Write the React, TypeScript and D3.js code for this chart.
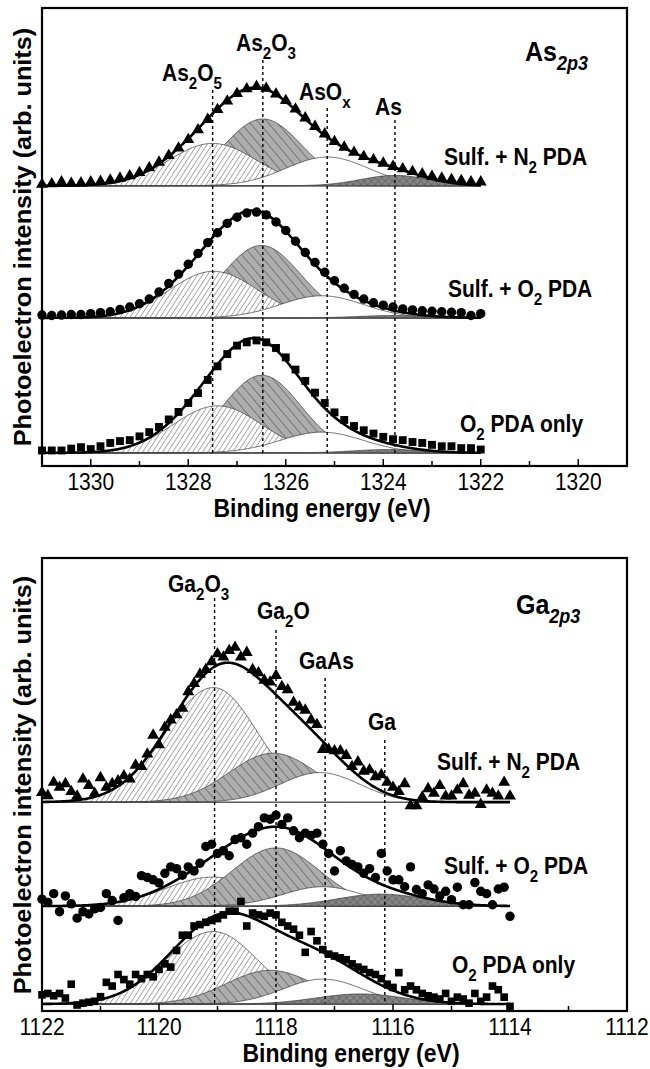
import React from "react";
import * as d3 from "d3";

// ---------- measured spectra (intensity above each curve's own baseline, arb. units) ----------
// As 2p3: one point every 0.2 eV from 1331.0 eV down to 1322.0 eV
const AS_START = 1331.0;
const AS_STEP = 0.2;
const asN2 = [0.3, 0.4, 0.8, 0.5, 0.6, 0.8, 0.9, 1.2, 1.6, 2.1, 2.8, 3.8, 5.0, 6.4, 8.0, 9.8, 11.9, 14.1, 16.2, 18.0, 19.6, 20.6, 21.1, 20.7, 19.5, 18.1, 16.3, 14.4, 12.6, 11.0, 9.4, 8.2, 7.1, 6.2, 5.5, 4.8, 4.1, 3.6, 3.0, 2.5, 2.0, 1.6, 1.3, 1.1, 0.8, 0.8];
const asO2 = [0.6, 0.5, 0.6, 0.7, 0.7, 0.9, 1.1, 1.3, 1.8, 2.3, 3.0, 4.0, 5.5, 7.3, 9.3, 11.4, 13.7, 16.0, 18.1, 20.1, 21.4, 22.3, 22.5, 21.9, 20.4, 18.6, 16.3, 13.9, 11.8, 9.7, 7.9, 6.3, 5.0, 4.0, 3.2, 2.7, 2.3, 1.9, 1.7, 1.5, 1.4, 1.3, 1.2, 1.1, 0.5, 0.9];
const asO2Only = [0.5, 0.5, 0.5, 0.9, 1.2, 0.8, 1.4, 2.1, 2.5, 2.7, 3.5, 4.4, 5.5, 7.1, 8.7, 10.6, 12.7, 15.5, 18.4, 21.0, 22.8, 23.5, 23.9, 23.5, 22.3, 20.3, 17.7, 15.3, 12.8, 10.6, 8.6, 7.0, 5.7, 4.8, 4.1, 3.4, 2.9, 2.7, 2.3, 2.1, 1.7, 1.4, 1.4, 1.0, 1.0, 0.7];

// Ga 2p3: one point every 0.1 eV from 1122.0 eV down to 1114.0 eV
const GA_START = 1122.0;
const GA_STEP = 0.1;
const gaN2 = [2.1, 1.4, 4.3, 3.2, 4.0, 2.3, 1.3, 5.0, 3.6, 1.9, 5.3, 3.2, 4.0, 4.6, 5.7, 5.0, 8.0, 7.7, 10.4, 14.5, 12.4, 16.2, 17.8, 18.9, 20.3, 23.9, 25.7, 27.7, 28.7, 30.4, 32.1, 31.4, 32.8, 33.5, 31.4, 32.4, 28.7, 28.0, 26.4, 26.0, 27.4, 25.0, 24.3, 21.6, 20.6, 19.9, 17.8, 16.8, 11.4, 11.4, 11.1, 11.1, 10.1, 7.7, 8.7, 6.7, 7.0, 5.5, 5.9, 4.3, 3.2, 2.3, 4.0, -0.8, -0.8, 1.1, 2.9, 1.9, 3.6, 1.3, 1.3, 2.6, 4.0, 1.5, 1.9, -0.5, 2.6, 1.9, 1.3, 4.3, 1.3];
const gaO2 = [1.5, 0.8, 2.7, -1.2, 2.2, 0.5, -2.6, -1.2, -1.7, -0.6, -0.3, 2.7, 1.2, -3.1, 1.8, 2.7, 2.1, 6.6, 6.2, 5.7, 5.0, 7.1, 8.5, 8.1, 6.7, 8.5, 7.6, 9.3, 12.9, 13.4, 11.4, 12.0, 10.9, 14.4, 14.8, 13.4, 15.8, 17.2, 19.1, 18.8, 19.7, 17.7, 19.1, 16.3, 14.8, 15.8, 15.3, 15.8, 13.4, 11.4, 7.6, 12.0, 9.8, 9.0, 8.5, 7.1, 8.1, 6.2, 11.4, 7.6, 5.7, 5.7, 4.2, 8.5, 3.6, 2.7, 4.6, 3.7, 2.2, 3.2, 1.4, 4.1, 0.3, 0.3, 5.1, 3.2, 2.7, 0.3, 3.7, 4.1, -2.2];
const gaO2Only = [2.0, 2.3, 1.8, 2.3, 1.3, 4.3, -0.2, 0.2, 0.4, 0.6, 1.6, 4.7, 3.9, 6.4, 5.3, 4.3, 6.4, 5.5, 6.4, 5.9, 7.5, 8.7, 8.0, 11.6, 14.9, 14.9, 16.9, 17.2, 17.7, 18.1, 18.5, 19.3, 20.1, 20.1, 22.2, 16.9, 19.7, 19.3, 19.0, 19.7, 19.3, 17.7, 16.9, 16.2, 14.9, 11.2, 15.7, 13.7, 11.8, 10.8, 10.4, 10.0, 9.6, 8.7, 8.0, 7.5, 6.8, 6.4, 5.5, 4.3, 3.6, 6.8, 3.1, 3.9, 3.1, 2.3, 1.8, 1.5, 1.1, 2.3, 0.6, 1.5, 1.1, 0.2, 2.3, 0.6, 1.5, 3.9, 3.1, 1.5, -0.5];

// vertical offsets of the stacked spectra (arb. units)
const asOffsets = [59.6, 31.5, 2.8];
const gaOffsets = [45.2, 22.7, 1.5];

// ---------- fitted components: centre (eV), height, Gaussian width on the high / low BE side ----------
const asSigmaHi = [0.9, 0.8, 0.85, 0.7];
const asSigmaLo = [0.9, 0.8, 0.85, 0.7];
const asN2Centers = [1327.5, 1326.47, 1325.15, 1323.76];
const asN2Heights = [9.0, 14.2, 6.1, 2.2];
const asO2Centers = [1327.48, 1326.5, 1325.26, 1323.8];
const asO2Heights = [9.9, 15.4, 4.7, 0.5];
const asO2OnlyCenters = [1327.4, 1326.49, 1325.26, 1323.9];
const asO2OnlyHeights = [10.0, 16.5, 4.4, 0.7];

const gaSigmaHi = [0.82, 0.75, 0.68, 0.75];
const gaSigmaLo = [0.76, 0.75, 0.68, 0.75];
const gaN2Centers = [1119.07, 1118.05, 1117.25, 1116.2];
const gaN2Heights = [24.8, 10.6, 6.4, 0];
const gaO2Centers = [1119.07, 1118.0, 1117.2, 1116.2];
const gaO2Heights = [6.3, 12.6, 4.2, 2.6];
const gaO2OnlyCenters = [1119.07, 1118.1, 1117.2, 1116.56];
const gaO2OnlyHeights = [15.7, 7.3, 5.4, 2.2];

// reference energies of the chemical states (dotted guides)
const asStateEnergies = [1327.5, 1326.47, 1325.15, 1323.76];
const gaStateEnergies = [1119.05, 1118.0, 1117.16, 1116.14];

// ---------- axes ----------
const asTicks = [1330, 1328, 1326, 1324, 1322, 1320];
const asMinorTicks = [1331, 1329, 1327, 1325, 1323, 1321, 1319];
const gaTicks = [1122, 1120, 1118, 1116, 1114, 1112];
const gaMinorTicks = [1121, 1119, 1117, 1115, 1113];

// ---------- text ----------
type Seg = { t: string; sub?: boolean; it?: boolean };
const sampleLabels: Seg[][] = [
  [{ t: "Sulf. + N" }, { t: "2", sub: true }, { t: " PDA" }],
  [{ t: "Sulf. + O" }, { t: "2", sub: true }, { t: " PDA" }],
  [{ t: "O" }, { t: "2", sub: true }, { t: " PDA only" }],
];
const asStateLabels: Seg[][] = [
  [{ t: "As" }, { t: "2", sub: true }, { t: "O" }, { t: "5", sub: true }],
  [{ t: "As" }, { t: "2", sub: true }, { t: "O" }, { t: "3", sub: true }],
  [{ t: "AsO" }, { t: "x", sub: true }],
  [{ t: "As" }],
];
const gaStateLabels: Seg[][] = [
  [{ t: "Ga" }, { t: "2", sub: true }, { t: "O" }, { t: "3", sub: true }],
  [{ t: "Ga" }, { t: "2", sub: true }, { t: "O" }],
  [{ t: "GaAs" }],
  [{ t: "Ga" }],
];
const asCoreLabel: Seg[] = [{ t: "As" }, { t: "2p3", sub: true, it: true }];
const gaCoreLabel: Seg[] = [{ t: "Ga" }, { t: "2p3", sub: true, it: true }];
const xAxisTitle = "Binding energy (eV)";
const yAxisTitle = "Photoelectron intensity (arb. units)";

const FONT = "'Liberation Sans', Arial, Helvetica, sans-serif";
const TALL = 1.1; // lettering is drawn slightly taller than wide

// ---------- layout ----------
const AS_LAYOUT = {
  frame: { x0: 42, x1: 627, y0: 8, y1: 466 },
  yMax: 97.4,
  domain: [1331, 1319] as [number, number],
  stateLabelPos: [[162, 81], [236, 51], [299, 100], [375, 115]],
  guideTop: [90, 60, 108, 120],
  guideBottom: 453,
  sampleLabelPos: [[444, 165], [448, 297], [460, 432]],
  corePos: [525, 61],
  xLabelX: 322,
  yLabelY: 237,
  order: [1, 0, 2, 3],
};
const GA_LAYOUT = {
  frame: { x0: 42, x1: 627, y0: 558, y1: 1011 },
  yMax: 98.05,
  domain: [1122, 1112] as [number, number],
  stateLabelPos: [[168, 592], [257, 619], [299, 669], [368, 730]],
  guideTop: [598, 630, 678, 740],
  guideBottom: 1003,
  sampleLabelPos: [[437, 770], [444, 874], [452, 973]],
  corePos: [516, 614],
  xLabelX: 351,
  yLabelY: 785,
  order: [0, 1, 2, 3],
};

const componentFills = ["url(#hatchFwd)", "url(#hatchBack)", "#ffffff", "url(#crossHatch)"];

function RichText({ x, y, segs, size, anchor = "start", bold = true }: any) {
  let shift = 0;
  const spans = segs.map((s: Seg, i: number) => {
    const target = s.sub ? size * 0.33 : 0;
    const dy = target - shift;
    shift = target;
    return (
      <tspan key={i} dy={dy} fontSize={s.sub ? size * 0.72 : size} fontStyle={s.it ? "italic" : "normal"}>
        {s.t}
      </tspan>
    );
  });
  return (
    <g transform={`translate(${x},${y}) scale(1,${TALL})`}>
      <text x={0} y={0} textAnchor={anchor} fontFamily={FONT} fontWeight={bold ? "bold" : "normal"} fontSize={size} style={{ whiteSpace: "pre" }}>
        {spans}
      </text>
    </g>
  );
}

type Spectrum = {
  values: number[];
  start: number;
  step: number;
  offset: number;
  centers: number[];
  heights: number[];
  symbol: d3.SymbolType;
  symbolSize: number;
};

function peakValue(e: number, c: number, h: number, sHi: number, sLo: number) {
  const s = e >= c ? sHi : sLo;
  return h * Math.exp(-((e - c) * (e - c)) / (2 * s * s));
}

function Panel({ layout, spectra, sigmaHi, sigmaLo, ticks, minorTicks, stateEnergies, stateLabels, coreLabel }: any) {
  const { frame, domain } = layout;
  const x = d3.scaleLinear().domain(domain).range([frame.x0, frame.x1]);
  const y = d3.scaleLinear().domain([0, layout.yMax]).range([frame.y1, frame.y0]);

  const fineGrid = (sp: Spectrum) => {
    const end = sp.start - sp.step * (sp.values.length - 1);
    return d3.range(0, 401).map((k) => sp.start - ((sp.start - end) * k) / 400);
  };

  return (
    <g>
      {/* fitted components, painted in layer order */}
      {spectra.map((sp: Spectrum, si: number) => {
        const end = sp.start - sp.step * (sp.values.length - 1);
        const fine = fineGrid(sp);
        const comp = (e: number, j: number) => peakValue(e, sp.centers[j], sp.heights[j], sigmaHi[j], sigmaLo[j]);
        return (
          <g key={si}>
            {layout.order.map((j: number) => {
              if (sp.heights[j] <= 0) return null;
              const area = d3
                .area<number>()
                .x((e) => x(e))
                .y0(y(sp.offset))
                .y1((e) => y(sp.offset + comp(e, j)));
              return <path key={j} d={area(fine) || ""} fill={componentFills[j]} stroke="#333" strokeWidth={0.7} />;
            })}
            <line x1={x(sp.start)} x2={x(end)} y1={y(sp.offset)} y2={y(sp.offset)} stroke="#555" strokeWidth={0.9} />
          </g>
        );
      })}

      {/* dotted guides at the chemical-state energies */}
      {stateEnergies.map((e: number, i: number) => (
        <line key={i} x1={x(e)} x2={x(e)} y1={layout.guideTop[i]} y2={layout.guideBottom} stroke="#000" strokeWidth={1.4} strokeDasharray="3 3" />
      ))}

      {/* envelope and measured points */}
      {spectra.map((sp: Spectrum, si: number) => {
        const fine = fineGrid(sp);
        const total = (e: number) =>
          sp.centers.reduce((acc, c, j) => acc + peakValue(e, c, sp.heights[j], sigmaHi[j], sigmaLo[j]), 0);
        const fitLine = d3
          .line<number>()
          .x((e) => x(e))
          .y((e) => y(sp.offset + total(e)));
        const sym = d3.symbol().type(sp.symbol).size(sp.symbolSize)() || "";
        return (
          <g key={"f" + si}>
            <path d={fitLine(fine) || ""} fill="none" stroke="#000" strokeWidth={2.6} />
            {sp.values.map((v, k) => (
              <path key={k} d={sym} transform={`translate(${x(sp.start - sp.step * k)},${y(sp.offset + v)})`} fill="#000" />
            ))}
          </g>
        );
      })}

      {/* frame and bottom axis */}
      <rect x={frame.x0} y={frame.y0} width={frame.x1 - frame.x0} height={frame.y1 - frame.y0} fill="none" stroke="#000" strokeWidth={2.2} />
      {ticks.map((t: number) => (
        <g key={"t" + t}>
          {t !== domain[0] && t !== domain[1] && (
            <line x1={x(t)} x2={x(t)} y1={frame.y1} y2={frame.y1 - 7} stroke="#000" strokeWidth={1.5} />
          )}
          <g transform={`translate(${x(t)},${frame.y1 + 24}) scale(1,${TALL})`}>
            <text x={0} y={0} textAnchor="middle" fontFamily={FONT} fontSize={21}>
              {t}
            </text>
          </g>
        </g>
      ))}
      {minorTicks
        .filter((t: number) => t !== domain[0] && t !== domain[1])
        .map((t: number) => (
          <line key={"m" + t} x1={x(t)} x2={x(t)} y1={frame.y1} y2={frame.y1 - 5} stroke="#000" strokeWidth={1.5} />
        ))}
      <g transform={`translate(${layout.xLabelX},${frame.y1 + 51}) scale(1,${TALL})`}>
        <text x={0} y={0} textAnchor="middle" fontFamily={FONT} fontWeight="bold" fontSize={23}>
          {xAxisTitle}
        </text>
      </g>
      <g transform={`translate(31,${layout.yLabelY}) rotate(-90) scale(${TALL},1)`}>
        <text x={0} y={0} textAnchor="middle" fontFamily={FONT} fontWeight="bold" fontSize={23}>
          {yAxisTitle}
        </text>
      </g>

      {stateLabels.map((segs: Seg[], i: number) => (
        <RichText key={"s" + i} x={layout.stateLabelPos[i][0]} y={layout.stateLabelPos[i][1]} segs={segs} size={21} />
      ))}
      {sampleLabels.map((segs: Seg[], i: number) => (
        <RichText key={"l" + i} x={layout.sampleLabelPos[i][0]} y={layout.sampleLabelPos[i][1]} segs={segs} size={21} />
      ))}
      <RichText x={layout.corePos[0]} y={layout.corePos[1]} segs={coreLabel} size={25} />
    </g>
  );
}

export default function App() {
  const asSpectra: Spectrum[] = [
    { values: asN2, start: AS_START, step: AS_STEP, offset: asOffsets[0], centers: asN2Centers, heights: asN2Heights, symbol: d3.symbolTriangle, symbolSize: 62 },
    { values: asO2, start: AS_START, step: AS_STEP, offset: asOffsets[1], centers: asO2Centers, heights: asO2Heights, symbol: d3.symbolCircle, symbolSize: 70 },
    { values: asO2Only, start: AS_START, step: AS_STEP, offset: asOffsets[2], centers: asO2OnlyCenters, heights: asO2OnlyHeights, symbol: d3.symbolSquare, symbolSize: 62 },
  ];
  const gaSpectra: Spectrum[] = [
    { values: gaN2, start: GA_START, step: GA_STEP, offset: gaOffsets[0], centers: gaN2Centers, heights: gaN2Heights, symbol: d3.symbolTriangle, symbolSize: 62 },
    { values: gaO2, start: GA_START, step: GA_STEP, offset: gaOffsets[1], centers: gaO2Centers, heights: gaO2Heights, symbol: d3.symbolCircle, symbolSize: 70 },
    { values: gaO2Only, start: GA_START, step: GA_STEP, offset: gaOffsets[2], centers: gaO2OnlyCenters, heights: gaO2OnlyHeights, symbol: d3.symbolSquare, symbolSize: 58 },
  ];

  return (
    <svg width={650} height={1069} style={{ position: "absolute", left: 0, top: 0, background: "#fff" }}>
      <defs>
        <pattern id="hatchFwd" patternUnits="userSpaceOnUse" width={4.2} height={8} patternTransform="rotate(33)">
          <rect width={4.2} height={8} fill="#fff" />
          <line x1={0} y1={0} x2={0} y2={8} stroke="#222" strokeWidth={0.8} />
        </pattern>
        <pattern id="hatchBack" patternUnits="userSpaceOnUse" width={7} height={8} patternTransform="rotate(-40)">
          <rect width={7} height={8} fill="#adadad" />
          <line x1={0} y1={0} x2={0} y2={8} stroke="#2a2a2a" strokeWidth={0.85} />
        </pattern>
        <pattern id="crossHatch" patternUnits="userSpaceOnUse" width={5} height={5} patternTransform="rotate(45)">
          <rect width={5} height={5} fill="#858585" />
          <line x1={0} y1={0} x2={0} y2={5} stroke="#333" strokeWidth={0.6} />
          <line x1={0} y1={0} x2={5} y2={0} stroke="#333" strokeWidth={0.6} />
        </pattern>
      </defs>
      <rect width={650} height={1069} fill="#fff" />
      <Panel
        layout={AS_LAYOUT}
        spectra={asSpectra}
        sigmaHi={asSigmaHi}
        sigmaLo={asSigmaLo}
        ticks={asTicks}
        minorTicks={asMinorTicks}
        stateEnergies={asStateEnergies}
        stateLabels={asStateLabels}
        coreLabel={asCoreLabel}
      />
      <Panel
        layout={GA_LAYOUT}
        spectra={gaSpectra}
        sigmaHi={gaSigmaHi}
        sigmaLo={gaSigmaLo}
        ticks={gaTicks}
        minorTicks={gaMinorTicks}
        stateEnergies={gaStateEnergies}
        stateLabels={gaStateLabels}
        coreLabel={gaCoreLabel}
      />
    </svg>
  );
}
